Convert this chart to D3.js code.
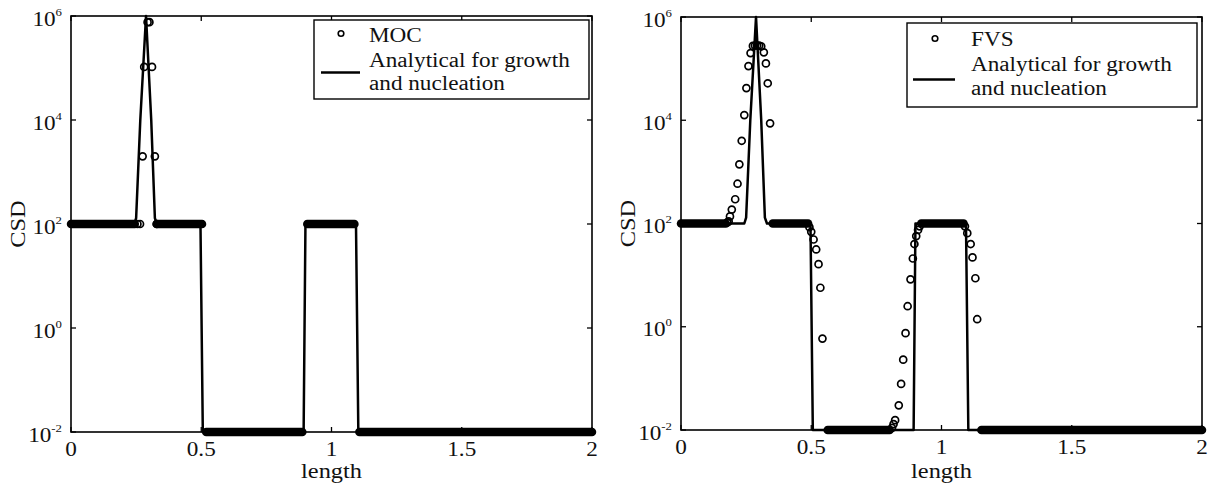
<!DOCTYPE html>
<html><head><meta charset="utf-8">
<script src="https://cdn.jsdelivr.net/npm/d3@7"></script>
<style>
body{margin:0;background:#fff}
text{font-family:"Liberation Serif","Times New Roman",serif;fill:#111}
</style>
</head><body>
<svg id="c" width="1217" height="494"></svg>
<script>
// ---- tick definitions ----
const xTicks = [0, 0.5, 1, 1.5, 2];
const xTickLabels = ["0", "0.5", "1", "1.5", "2"];
const yTicks = [1e-2, 1e0, 1e2, 1e4, 1e6];
const yTickExponents = ["-2", "0", "2", "4", "6"];

// ---- analytical solution for growth and nucleation (both panels) ----
const analyticX = [0, 0.243, 0.250, 0.266, 0.288, 0.308, 0.322, 0.330, 0.497, 0.506, 0.893, 0.900, 1.094, 1.103, 2.0];
const analyticY = [100, 100, 130, 1e4, 1e6, 1e4, 130, 100, 100, 0.01, 0.01, 100, 100, 0.01, 0.01];

// ---- MOC: dense runs of markers (plateaus) + individual markers ----
const mocRunFrom  = [0, 0.329, 0.519, 0.907, 1.107];
const mocRunTo    = [0.245, 0.503, 0.888, 1.088, 2.0];
const mocRunLevel = [100, 100, 0.01, 100, 0.01];
const mocPointX = [0.255, 0.265, 0.275, 0.281, 0.294, 0.301, 0.311, 0.322, 0.329];
const mocPointY = [100, 100, 2000, 1.05e5, 7.6e5, 7.6e5, 1.05e5, 2000, 100];

// ---- FVS: dense runs of markers (plateaus) + individual markers ----
const fvsRunFrom  = [0, 0.352, 0.563, 0.922, 1.153];
const fvsRunTo    = [0.172, 0.488, 0.801, 1.085, 2.0];
const fvsRunLevel = [100, 100, 0.01, 100, 0.01];
const fvsPointX = [0.178, 0.183, 0.188, 0.195, 0.208, 0.217, 0.224, 0.233, 0.243, 0.251, 0.259, 0.267, 0.276, 0.284, 0.292, 0.300, 0.308, 0.318, 0.326, 0.333, 0.342,
  0.493, 0.500, 0.509, 0.519, 0.528, 0.535, 0.543,
  0.810, 0.816, 0.822, 0.836, 0.845, 0.853, 0.862, 0.870, 0.881, 0.890, 0.896, 0.903, 0.910, 0.916,
  1.090, 1.099, 1.112, 1.119, 1.130, 1.137];
const fvsPointY = [105, 110, 137, 186, 295, 590, 1400, 4000, 12600, 42000, 112000, 200000, 275000, 280000, 280000, 280000, 270000, 207000, 126000, 52000, 8700,
  85, 69, 49, 31.4, 16.3, 5.7, 0.59,
  0.011, 0.013, 0.0155, 0.03, 0.078, 0.23, 0.75, 2.5, 8.3, 21, 40, 57, 75, 88,
  88, 65, 40, 22, 8.7, 1.4];

const legendLine1 = "Analytical for growth";
const legendLine2 = "and nucleation";

const STRETCH = 1.16;
const svg = d3.select("#c");

function stext(g, x, y, str, size, anchor, rot) {
  return g.append("text")
    .attr("transform", `translate(${x},${y}) rotate(${rot||0}) scale(${STRETCH},1)`)
    .attr("text-anchor", anchor || "start")
    .style("font-size", size + "px")
    .text(str);
}

const panels = [
  { left: 71, right: 592, top: 16, bottom: 432, name: "MOC",
    runFrom: mocRunFrom, runTo: mocRunTo, runLevel: mocRunLevel, px: mocPointX, py: mocPointY,
    lg: { x0: 314, y0: 20, w: 275, h: 79, cx: 341, cy: 33.5, tx: 369, t0: 41.5, t1: 66.5, t2: 89.5, lx0: 321, lx1: 360, ly: 72.5 } },
  { left: 681, right: 1202, top: 17, bottom: 430, name: "FVS",
    runFrom: fvsRunFrom, runTo: fvsRunTo, runLevel: fvsRunLevel, px: fvsPointX, py: fvsPointY,
    lg: { x0: 907, y0: 23, w: 290, h: 84, cx: 935, cy: 38.5, tx: 971, t0: 46, t1: 71, t2: 94.5, lx0: 913, lx1: 955, ly: 79.5 } }
];

panels.forEach(p => {
  const g = svg.append("g");
  const x = d3.scaleLinear().domain([0, 2]).range([p.left, p.right]);
  const y = d3.scaleLog().domain([1e-2, 1e6]).range([p.bottom, p.top]);
  const TL = 5;

  // frame
  g.append("rect").attr("x", p.left).attr("y", p.top)
    .attr("width", p.right - p.left).attr("height", p.bottom - p.top)
    .attr("fill", "none").attr("stroke", "#000").attr("stroke-width", 1.6);

  // x ticks (bottom & top, inward)
  xTicks.forEach((t, i) => {
    g.append("line").attr("x1", x(t)).attr("x2", x(t)).attr("y1", p.bottom).attr("y2", p.bottom - TL)
      .attr("stroke", "#000").attr("stroke-width", 1.3);
    g.append("line").attr("x1", x(t)).attr("x2", x(t)).attr("y1", p.top).attr("y2", p.top + TL)
      .attr("stroke", "#000").attr("stroke-width", 1.3);
    stext(g, x(t), p.bottom + 24, xTickLabels[i], 20, "middle");
  });
  // y ticks (left & right, inward)
  yTicks.forEach((t, i) => {
    g.append("line").attr("x1", p.left).attr("x2", p.left + TL).attr("y1", y(t)).attr("y2", y(t))
      .attr("stroke", "#000").attr("stroke-width", 1.3);
    g.append("line").attr("x1", p.right).attr("x2", p.right - TL).attr("y1", y(t)).attr("y2", y(t))
      .attr("stroke", "#000").attr("stroke-width", 1.3);
    const tx = g.append("text")
      .attr("transform", `translate(${p.left - 9},${y(t) + 9.5}) scale(${STRETCH},1)`)
      .attr("text-anchor", "end").style("font-size", "20px");
    tx.append("tspan").text("10");
    tx.append("tspan").attr("dy", -10).style("font-size", "11px").text(yTickExponents[i]);
  });

  // axis titles
  stext(g, (p.left + p.right) / 2, 478, "length", 21, "middle");
  stext(g, p.left - 46, (p.top + p.bottom) / 2, "CSD", 21, "middle", -90);

  // analytical line
  const line = d3.line().x((d, i) => x(analyticX[i])).y((d, i) => y(analyticY[i]));
  g.append("path").datum(analyticX).attr("d", line)
    .attr("fill", "none").attr("stroke", "#000").attr("stroke-width", 2.5).attr("stroke-linejoin", "round");

  // dense marker runs (plateaus)
  p.runFrom.forEach((a, i) => {
    g.append("line").attr("x1", x(a)).attr("x2", x(p.runTo[i]))
      .attr("y1", y(p.runLevel[i])).attr("y2", y(p.runLevel[i]))
      .attr("stroke", "#000").attr("stroke-width", 8.5).attr("stroke-linecap", "round");
  });
  // individual markers
  g.selectAll("circle.pt").data(p.px).enter().append("circle").attr("class", "pt")
    .attr("cx", (d) => x(d)).attr("cy", (d, i) => y(p.py[i]))
    .attr("r", 3.5).attr("fill", "none").attr("stroke", "#000").attr("stroke-width", 1.7);

  // legend
  const L = p.lg;
  g.append("rect").attr("x", L.x0).attr("y", L.y0).attr("width", L.w).attr("height", L.h)
    .attr("fill", "#fff").attr("stroke", "#000").attr("stroke-width", 1.4);
  g.append("circle").attr("cx", L.cx).attr("cy", L.cy).attr("r", 2.8)
    .attr("fill", "none").attr("stroke", "#000").attr("stroke-width", 1.6);
  stext(g, L.tx, L.t0, p.name, 20, "start");
  g.append("line").attr("x1", L.lx0).attr("x2", L.lx1).attr("y1", L.ly).attr("y2", L.ly)
    .attr("stroke", "#000").attr("stroke-width", 2.5);
  stext(g, L.tx, L.t1, legendLine1, 20, "start");
  stext(g, L.tx, L.t2, legendLine2, 20, "start");
});
</script>
</body></html>
